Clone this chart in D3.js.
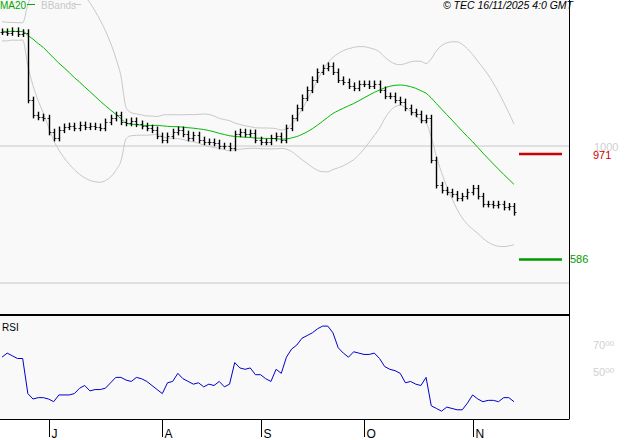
<!DOCTYPE html>
<html><head><meta charset="utf-8">
<script src="https://cdn.jsdelivr.net/npm/d3@7"></script>
<style>body{margin:0;background:#fff}text{font-family:"Liberation Sans",sans-serif}</style>
</head><body>
<svg id="chart" width="627" height="440"></svg>
<script>
// closes, oldest first
var priorCloses = [1440,1395,1430,1405,1450,1400,1425,1390,1440,1410,1435,1400,1420,1445,1395,1430,1410,1425,1415];
var closes = [1417,1414,1421,1410,1414,1168,1113,1106,1102,1051,
	1029,1059,1070,1073,1066,1077,1070,1073,1070,1066,
	1088,1102,1113,1088,1084,1092,1081,1073,1066,1059,
	1037,1022,1037,1051,1059,1044,1029,1040,1022,1015,
	1015,1011,1000,1000,993,1044,1051,1044,1048,1022,
	1015,1015,1029,1037,1022,1066,1102,1139,1176,1205,
	1242,1271,1285,1293,1271,1242,1234,1220,1212,1227,
	1227,1220,1227,1205,1183,1183,1168,1161,1139,1124,
	1117,1095,1102,949,857,839,832,824,810,817,
	832,846,817,788,788,784,788,777,780,758];
var rsi = [61,64,62,60,60,34,30,31,31,30,28,33,33,33,34,38,40,36,37,37,
	38,42,46,46,44,43,46,45,43,40,37,34,42,43,49,45,43,41,42,39,
	41,40,43,39,41,57,53,52,53,48,48,45,43,52,49,61,67,70,75,77,
	79,82,84,84,79,68,64,61,65,64,63,63,64,60,54,52,51,49,42,43,
	41,40,46,25,23,21,24,23,22,22,27,33,30,28,29,29,28,31,31,28];
var months = ["J","A","S","O","N"];
var monthBars = [9,31,50,70,91];
var levels = [{v:971,c:"#cc0000"},{v:586,c:"#009900"}];
var priceGrid = [1000,500];
var rsiTicks = [70,50];

var svg = d3.select("#chart");
var W = 569, bot1 = 315, bot2 = 419;

var x = d3.scaleLinear().domain([0,99]).range([2,514]);
var y = d3.scaleLinear().domain([500,1000]).range([283,146]);
var yr = d3.scaleLinear().domain([50,70]).range([372,345]);

svg.append("rect").attr("width",W).attr("height",bot2).attr("fill","#f9f9f9");

priceGrid.forEach(function(g){
	svg.append("line").attr("x1",0).attr("x2",W).attr("y1",y(g)).attr("y2",y(g))
		.attr("stroke","#c8c8c8");
});

// MA20 and bollinger bands
var all = priorCloses.concat(closes), ma = [], up = [], lo = [];
closes.forEach(function(c,i){
	var win = all.slice(i, i+20), m = d3.mean(win), s = d3.deviation(win)*Math.sqrt(19/20);
	ma.push(m); up.push(m+2*s); lo.push(m-2*s);
});
var line = function(arr,sc){return d3.line().x(function(d,i){return x(i);}).y(function(d){return sc(d);}).curve(d3.curveMonotoneX)(arr);};
svg.append("path").attr("d",line(up,y)).attr("fill","none").attr("stroke","#c8c8c8");
svg.append("path").attr("d",line(lo,y)).attr("fill","none").attr("stroke","#c8c8c8");
svg.append("path").attr("d",line(ma,y)).attr("fill","none").attr("stroke","#00bb00");

// bars
var g = svg.append("g").attr("stroke","#000");
closes.forEach(function(c,i){
	var o = i ? closes[i-1] : c, px = Math.round(x(i))+0.5;
	var hi = Math.max(o,c)+12, lw = Math.min(o,c)-12;
	g.append("line").attr("x1",px).attr("x2",px).attr("y1",y(hi)).attr("y2",y(lw)).attr("stroke-width",1.4);
	g.append("line").attr("x1",px-2).attr("x2",px).attr("y1",Math.round(y(o))+0.5).attr("y2",Math.round(y(o))+0.5).attr("stroke-width",0.8);
	g.append("line").attr("x1",px).attr("x2",px+2).attr("y1",Math.round(y(c))+0.5).attr("y2",Math.round(y(c))+0.5).attr("stroke-width",0.8);
});

levels.forEach(function(l){
	svg.append("line").attr("x1",519).attr("x2",562).attr("y1",y(l.v)).attr("y2",y(l.v))
		.attr("stroke",l.c).attr("stroke-width",2.5);
});
svg.append("text").attr("x",594).attr("y",y(1000)+5).attr("fill","#d0d0d0").attr("font-size",11).text("1000");
svg.append("text").attr("x",593).attr("y",y(971)+5).attr("fill","#cc0000").attr("font-size",11).text("971");
svg.append("text").attr("x",570).attr("y",y(586)+4).attr("fill","#009900").attr("font-size",11).text("586");

// legend
svg.append("text").attr("x",0).attr("y",9).attr("fill","#00aa00").attr("font-size",10).text("MA20");
svg.append("line").attr("x1",27).attr("x2",35).attr("y1",4.5).attr("y2",4.5).attr("stroke","#00aa00");
svg.append("text").attr("x",41).attr("y",9).attr("fill","#c8c8c8").attr("font-size",10).text("BBands");
svg.append("line").attr("x1",74).attr("x2",81).attr("y1",4.5).attr("y2",4.5).attr("stroke","#c8c8c8");
svg.append("text").attr("x",573).attr("y",9).attr("text-anchor","end").attr("font-size",10.5)
	.attr("font-style","italic").text("© TEC 16/11/2025 4:0 GMT");

// rsi
svg.append("text").attr("x",2).attr("y",331).attr("font-size",10).text("RSI");
svg.append("path").attr("d",d3.line().x(function(d,i){return x(i);}).y(function(d){return yr(d);})(rsi))
	.attr("fill","none").attr("stroke","#0000cc");
rsiTicks.forEach(function(t){
	var tx = svg.append("text").attr("x",593).attr("y",yr(t)+4).attr("fill","#d0d0d0").attr("font-size",11);
	tx.append("tspan").text(t);
	tx.append("tspan").attr("font-size",8).attr("dy",-3).text("00");
});

// frame
svg.append("line").attr("x1",0).attr("x2",W).attr("y1",bot1).attr("y2",bot1).attr("stroke","#000").attr("stroke-width",2);
svg.append("line").attr("x1",0).attr("x2",W+0.5).attr("y1",bot2+0.5).attr("y2",bot2+0.5).attr("stroke","#000");
svg.append("line").attr("x1",W+0.5).attr("x2",W+0.5).attr("y1",0).attr("y2",bot2).attr("stroke","#000");

months.forEach(function(m,k){
	var px = Math.round(x(monthBars[k]))+0.5;
	svg.append("line").attr("x1",px).attr("x2",px).attr("y1",bot2).attr("y2",437).attr("stroke","#000");
	svg.append("text").attr("x",px+2).attr("y",438).attr("font-size",12).text(m);
});
</script>
</body></html>
